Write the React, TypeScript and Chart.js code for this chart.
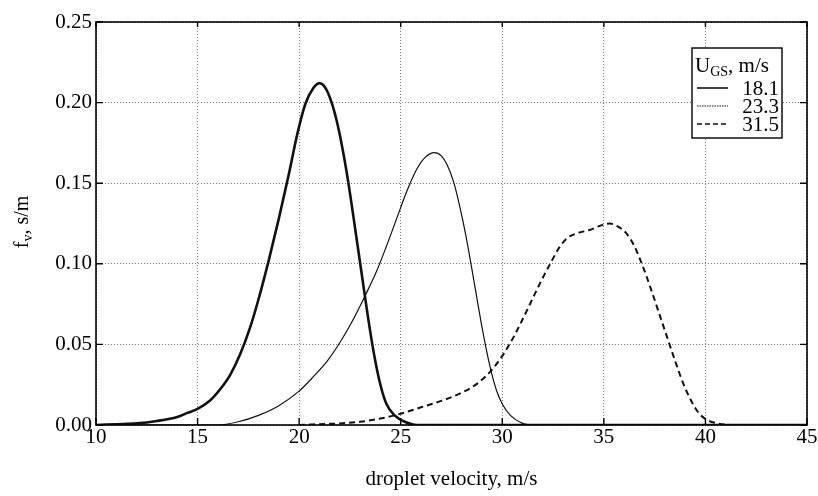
import React, { useEffect, useRef } from "react";
import { Chart, registerables } from "chart.js";

Chart.register(...registerables);

const FONT = "'Liberation Serif', 'DejaVu Serif', serif";

// Series U_GS = 18.1 m/s
const v181 = [10.0, 11.0, 12.0, 13.0, 14.0, 14.5, 15.0, 15.6, 16.1, 16.6, 17.1, 17.6, 18.0, 18.5, 19.0, 19.5, 19.9, 20.3, 20.7, 21.0, 21.3, 21.6, 21.9, 22.2, 22.5, 22.8, 23.1, 23.4, 23.7, 24.0, 24.3, 24.7, 25.2, 25.8, 45.0];
const f181 = [0.0, 0.0005, 0.001, 0.0025, 0.005, 0.0075, 0.010, 0.015, 0.022, 0.031, 0.044, 0.061, 0.078, 0.102, 0.128, 0.156, 0.180, 0.199, 0.209, 0.212, 0.209, 0.200, 0.186, 0.167, 0.144, 0.118, 0.092, 0.066, 0.043, 0.025, 0.013, 0.006, 0.002, 0.0, 0.0];

// Series U_GS = 23.3 m/s
const v233 = [10.0, 16.0, 17.0, 18.0, 19.0, 20.0, 20.7, 21.4, 22.0, 22.6, 23.2, 23.8, 24.3, 24.8, 25.3, 25.8, 26.2, 26.65, 27.0, 27.3, 27.6, 27.9, 28.2, 28.5, 28.8, 29.1, 29.4, 29.7, 30.0, 30.4, 31.0, 31.6, 45.0];
const f233 = [0.0, 0.0, 0.002, 0.006, 0.012, 0.021, 0.030, 0.040, 0.051, 0.064, 0.079, 0.095, 0.111, 0.128, 0.145, 0.159, 0.166, 0.169, 0.167, 0.161, 0.151, 0.136, 0.118, 0.097, 0.075, 0.054, 0.036, 0.022, 0.013, 0.006, 0.001, 0.0, 0.0];

// Series U_GS = 31.5 m/s
const v315 = [20.0, 21.0, 22.0, 23.0, 24.0, 25.0, 26.0, 27.0, 28.0, 28.8, 29.4, 29.9, 30.4, 30.9, 31.4, 31.9, 32.4, 32.8, 33.2, 33.7, 34.3, 34.9, 35.3, 35.7, 36.1, 36.5, 36.9, 37.3, 37.7, 38.1, 38.5, 38.9, 39.3, 39.7, 40.1, 40.6, 41.2];
const f315 = [0.0, 0.0005, 0.001, 0.002, 0.004, 0.007, 0.011, 0.015, 0.020, 0.026, 0.033, 0.041, 0.051, 0.063, 0.076, 0.089, 0.101, 0.110, 0.116, 0.119, 0.121, 0.124, 0.125, 0.123, 0.119, 0.111, 0.099, 0.085, 0.070, 0.055, 0.040, 0.026, 0.015, 0.007, 0.003, 0.001, 0.0];

const seriesLabels = ["18.1", "23.3", "31.5"];
const xTicks = [10, 15, 20, 25, 30, 35, 40, 45];
const yTicks = [0, 0.05, 0.1, 0.15, 0.2, 0.25];

const xTitle = "droplet velocity, m/s";
const yTitleMain = "f";
const yTitleSub = "v";
const yTitleRest = ", s/m";
const legendMain = "U";
const legendSub = "GS";
const legendRest = ", m/s";

const lineStyles = [
  { width: 2.6, dash: [] as number[] },
  { width: 1.2, dash: [] as number[] },
  { width: 2.0, dash: [6, 4] },
];

function toPoints(xs: number[], ys: number[]) {
  return xs.map((x, i) => ({ x, y: ys[i] }));
}

const overlayPlugin = {
  id: "overlay",
  afterDraw(chart: any) {
    const { ctx, chartArea } = chart;
    const { left, right, top, bottom } = chartArea;
    const xs = chart.scales.x;
    const ys = chart.scales.y;
    ctx.save();
    // frame
    ctx.strokeStyle = "#000";
    ctx.lineWidth = 1.6;
    ctx.setLineDash([]);
    ctx.strokeRect(left, top, right - left, bottom - top);
    // inner ticks
    ctx.lineWidth = 1.4;
    ctx.beginPath();
    xTicks.forEach((t) => {
      const px = xs.getPixelForValue(t);
      ctx.moveTo(px, bottom);
      ctx.lineTo(px, bottom - 7);
      ctx.moveTo(px, top);
      ctx.lineTo(px, top + 5);
    });
    yTicks.forEach((t) => {
      const py = ys.getPixelForValue(t);
      ctx.moveTo(left, py);
      ctx.lineTo(left + 7, py);
      ctx.moveTo(right, py);
      ctx.lineTo(right - 7, py);
    });
    ctx.stroke();

    // y title with subscript
    ctx.fillStyle = "#000";
    ctx.translate(22, 222);
    ctx.rotate(-Math.PI / 2);
    const titleFont = `20px ${FONT}`;
    const bigFont = `21px ${FONT}`;
    const smallFont = `14px ${FONT}`;
    ctx.font = titleFont;
    const w1 = ctx.measureText(yTitleMain).width;
    const w3 = ctx.measureText(yTitleRest).width;
    ctx.font = smallFont;
    const w2 = ctx.measureText(yTitleSub).width;
    const total = w1 + w2 + w3;
    let cx = -total / 2;
    ctx.textBaseline = "alphabetic";
    ctx.textAlign = "left";
    ctx.font = titleFont;
    ctx.fillText(yTitleMain, cx, 6);
    cx += w1;
    ctx.font = smallFont;
    ctx.fillText(yTitleSub, cx, 10);
    cx += w2;
    ctx.font = titleFont;
    ctx.fillText(yTitleRest, cx, 6);
    ctx.setTransform(1, 0, 0, 1, 0, 0);

    // legend
    const bx = 692, by = 48, bw = 90, bh = 90;
    ctx.fillStyle = "#fff";
    ctx.fillRect(bx, by, bw, bh);
    ctx.strokeStyle = "#000";
    ctx.lineWidth = 1.4;
    ctx.strokeRect(bx, by, bw, bh);
    ctx.fillStyle = "#000";
    ctx.textBaseline = "alphabetic";
    ctx.textAlign = "left";
    let lx = bx + 3;
    const tb = by + 24;
    ctx.font = bigFont;
    ctx.fillText(legendMain, lx, tb);
    lx += ctx.measureText(legendMain).width;
    ctx.font = smallFont;
    ctx.fillText(legendSub, lx, tb + 4);
    lx += ctx.measureText(legendSub).width;
    ctx.font = bigFont;
    ctx.fillText(legendRest, lx, tb);

    const rows = [by + 40, by + 58, by + 76];
    seriesLabels.forEach((lab, i) => {
      const ry = rows[i];
      ctx.textAlign = "right";
      ctx.textBaseline = "middle";
      ctx.font = bigFont;
      ctx.fillText(lab, bx + bw - 3, ry + 1);
      ctx.beginPath();
      ctx.strokeStyle = "#111";
      if (i === 0) {
        ctx.lineWidth = 1.6;
        ctx.setLineDash([]);
      } else if (i === 1) {
        ctx.lineWidth = 1.1;
        ctx.setLineDash([1.5, 1]);
      } else {
        ctx.lineWidth = 1.6;
        ctx.setLineDash([5, 3]);
      }
      ctx.moveTo(bx + 5, ry);
      ctx.lineTo(bx + 36, ry);
      ctx.stroke();
    });
    ctx.restore();
  },
};

export default function App() {
  const ref = useRef<HTMLCanvasElement | null>(null);
  useEffect(() => {
    if (!ref.current) return;
    const series = [toPoints(v181, f181), toPoints(v233, f233), toPoints(v315, f315)];
    const chart = new Chart(ref.current, {
      type: "line",
      data: {
        datasets: series.map((pts, i) => ({
          label: seriesLabels[i],
          data: pts,
          borderColor: "#111",
          backgroundColor: "#111",
          borderWidth: lineStyles[i].width,
          borderDash: lineStyles[i].dash,
          pointRadius: 0,
          fill: false,
          cubicInterpolationMode: "monotone" as const,
        })),
      },
      options: {
        responsive: false,
        animation: false,
        events: [],
        layout: { padding: { left: 0, right: 11, top: 22, bottom: 0 } },
        plugins: { legend: { display: false }, tooltip: { enabled: false } },
        scales: {
          x: {
            type: "linear",
            min: 10,
            max: 45,
            afterFit: (s: any) => {
              s.height = 71;
            },
            ticks: {
              stepSize: 5,
              color: "#000",
              font: { family: FONT, size: 21 },
              padding: 0,
              maxRotation: 0,
              autoSkip: false,
            },
            grid: { color: "#555", lineWidth: 0.8, drawTicks: false },
            border: { display: false, dash: [1, 2] },
            title: {
              display: true,
              text: xTitle,
              color: "#000",
              font: { family: FONT, size: 21 },
              padding: { top: 0, bottom: 4 },
            },
          },
          y: {
            min: 0,
            max: 0.25,
            afterFit: (s: any) => {
              s.width = 96;
            },
            ticks: {
              stepSize: 0.05,
              color: "#000",
              font: { family: FONT, size: 21 },
              padding: 4,
              callback: (v: any) => Number(v).toFixed(2),
            },
            grid: { color: "#555", lineWidth: 0.8, drawTicks: false },
            border: { display: false, dash: [1, 2] },
          },
        },
      },
      plugins: [overlayPlugin],
    });
    return () => chart.destroy();
  }, []);
  return (
    <div style={{ position: "absolute", left: 0, top: 0, width: 818, height: 496, background: "#fff" }}>
      <canvas ref={ref} width={818} height={496} />
    </div>
  );
}
